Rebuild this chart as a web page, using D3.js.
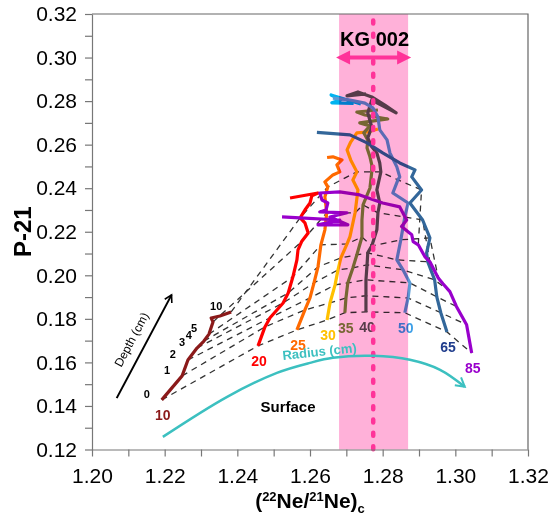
<!DOCTYPE html>
<html>
<head>
<meta charset="utf-8">
<script src="https://cdn.jsdelivr.net/npm/d3@7"></script>
<style>
  body { margin: 0; background: #fff; }
  svg { font-family: "Liberation Sans", Arial, sans-serif; }
  .axis text { font-size: 21px; fill: #000; }
  .axis path, .axis line { stroke: #777; stroke-width: 1.2; }
</style>
</head>
<body>
<svg id="chart" width="549" height="515"></svg>
<script>
// depth profiles: [ (22Ne/21Ne)c, P-21, depth cm or null ]
const radii = [10, 20, 25, 30, 35, 40, 50, 65, 85];
const depthLevels = [0, 1, 2, 3, 4, 5, 7, 10];
const depthLabels = ['0', '1', '2', '3', '4', '5', '10'];
const depthLabelLevels = [0, 1, 2, 3, 4, 5, 10];

const r10 = [[1.2192, 0.1428, 0], [1.2248, 0.1538, 1], [1.2264, 0.1611, 2], [1.2289, 0.1666, 3],
  [1.2308, 0.1698, 4], [1.2322, 0.1730, 5], [1.2333, 0.1786, 7], [1.2328, 0.1804, null],
  [1.2352, 0.1813, null], [1.2383, 0.1832, 10]];
const r20 = [[1.2457, 0.1676, 0], [1.2476, 0.1763, 1], [1.2490, 0.1805, 2], [1.2526, 0.1873, 3],
  [1.2540, 0.1919, 4], [1.2553, 0.1993, 5], [1.2564, 0.2071, null], [1.2567, 0.2117, null],
  [1.2577, 0.2155, 7], [1.2595, 0.2194, null], [1.2586, 0.2241, null], [1.2573, 0.2264, 10],
  [1.2586, 0.2300, null], [1.2600, 0.2332, null], [1.2605, 0.2365, null], [1.2622, 0.2378, null],
  [1.2545, 0.2355, null]];
const r25 = [[1.2564, 0.1749, 0], [1.2586, 0.1841, 1], [1.2600, 0.1896, 2], [1.2611, 0.1965, 3],
  [1.2622, 0.2039, 4], [1.2630, 0.2140, 5], [1.2641, 0.2209, null], [1.2646, 0.2287, 7],
  [1.2641, 0.2360, null], [1.2649, 0.2406, 10], [1.2641, 0.2429, null], [1.2663, 0.2461, null],
  [1.2682, 0.2475, null], [1.2674, 0.2507, null], [1.2688, 0.2530, null], [1.2663, 0.2544, null],
  [1.2647, 0.2541, null]];
const r30 = [[1.2647, 0.1795, 0], [1.2655, 0.1873, 1], [1.2669, 0.1956, 2], [1.2677, 0.2025, 3],
  [1.2685, 0.2080, 4], [1.2702, 0.2144, 5], [1.2710, 0.2178, null], [1.2724, 0.2287, 7],
  [1.2732, 0.2392, null], [1.2718, 0.2438, null], [1.2729, 0.2475, 10], [1.2712, 0.2530, null],
  [1.2702, 0.2576, null], [1.2712, 0.2612, null], [1.2729, 0.2654, null], [1.2759, 0.2658, null],
  [1.2787, 0.2672, null]];
const r35 = [[1.2696, 0.1828, 0], [1.2699, 0.1896, 1], [1.2704, 0.1965, 2], [1.2718, 0.2034, 3],
  [1.2729, 0.2094, 4], [1.2743, 0.2176, 5], [1.2743, 0.2254, null], [1.2746, 0.2323, 7],
  [1.2765, 0.2401, null], [1.2770, 0.2475, 10], [1.2770, 0.2507, null], [1.2765, 0.2544, null],
  [1.2757, 0.2585, null], [1.2759, 0.2622, null], [1.2748, 0.2654, null], [1.2765, 0.2686, null],
  [1.2737, 0.2700, null], [1.2814, 0.2718, null], [1.2751, 0.2736, null], [1.2729, 0.2750, null],
  [1.2787, 0.2759, null]];
const r40 = [[1.2754, 0.1832, 0], [1.2754, 0.1906, 1], [1.2754, 0.1979, 2], [1.2757, 0.2048, 3],
  [1.2759, 0.2103, 4], [1.2770, 0.2135, 5], [1.2784, 0.2209, null], [1.2787, 0.2287, 7],
  [1.2792, 0.2332, null], [1.2784, 0.2392, null], [1.2795, 0.2475, 10], [1.2792, 0.2516, null],
  [1.2784, 0.2562, null], [1.2770, 0.2590, null], [1.2759, 0.2631, null], [1.2770, 0.2681, null],
  [1.2759, 0.2746, null], [1.2770, 0.2805, null], [1.2837, 0.2746, null], [1.2806, 0.2782, null],
  [1.2770, 0.2819, null], [1.2732, 0.2842, null], [1.2702, 0.2824, null], [1.2754, 0.2833, null]];
const r50 = [[1.2861, 0.1828, 0], [1.2870, 0.1896, 1], [1.2875, 0.1965, 2], [1.2856, 0.2025, 3],
  [1.2839, 0.2071, 4], [1.2850, 0.2163, 5], [1.2861, 0.2268, 7], [1.2870, 0.2332, null],
  [1.2828, 0.2378, null], [1.2842, 0.2438, 10], [1.2847, 0.2452, null], [1.2839, 0.2498, null],
  [1.2820, 0.2562, null], [1.2812, 0.2622, null], [1.2792, 0.2668, null], [1.2787, 0.2727, null],
  [1.2773, 0.2769, null], [1.2751, 0.2791, null], [1.2710, 0.2805, null], [1.2663, 0.2814, null]];
const r65 = [[1.2977, 0.1740, 0], [1.2960, 0.1828, 1], [1.2949, 0.1901, 2], [1.2943, 0.1979, 3],
  [1.2924, 0.2062, 4], [1.2921, 0.2103, null], [1.2930, 0.2172, 5], [1.2910, 0.2254, 7],
  [1.2875, 0.2332, null], [1.2907, 0.2392, 10], [1.2880, 0.2452, null], [1.2889, 0.2484, null],
  [1.2847, 0.2516, null], [1.2800, 0.2562, null], [1.2757, 0.2608, null], [1.2710, 0.2645, null],
  [1.2619, 0.2656, null]];
const r85 = [[1.3045, 0.1643, 0], [1.3031, 0.1773, 1], [1.3003, 0.1857, 2], [1.2985, 0.1925, 3],
  [1.2966, 0.1961, 4], [1.2953, 0.1988, 5], [1.2930, 0.2062, 7], [1.2916, 0.2086, null],
  [1.2898, 0.2140, 10], [1.2884, 0.2155, null], [1.2880, 0.2186, null], [1.2852, 0.2224, null],
  [1.2866, 0.2254, null], [1.2847, 0.2314, null], [1.2800, 0.2332, null], [1.2737, 0.2369, null],
  [1.2682, 0.2383, null], [1.2627, 0.2378, null], [1.2633, 0.2346, null], [1.2649, 0.2332, null],
  [1.2644, 0.2300, null], [1.2627, 0.2291, null], [1.2702, 0.2287, null], [1.2655, 0.2268, null],
  [1.2704, 0.2232, null], [1.2622, 0.2232, null], [1.2682, 0.2254, null], [1.2572, 0.2264, null],
  [1.2523, 0.2268, null]];
const cyanTop = [[1.2740, 0.2787], [1.2658, 0.2828], [1.2685, 0.2806], [1.2660, 0.2792], [1.2720, 0.2790]];

// KG 002 range and mean
const kgRange = [1.2680, 1.2870];
const kgMean = 1.2774;
const kgLabel = 'KG 002';

// annotations
const radiusCurve = [[1.2195, 0.1258], [1.2372, 0.1442], [1.2509, 0.1552], [1.2600, 0.1598],
  [1.2663, 0.1621], [1.2773, 0.1630], [1.2875, 0.1612], [1.2958, 0.1566], [1.3026, 0.1488]];
const depthArrow = [[1.2068, 0.1436], [1.2219, 0.1910]];

const profiles = [r10, r20, r25, r30, r35, r40, r50, r65, r85];
const lineColors = ['#8b1a1a', '#ff0000', '#ff6a00', '#ffc000', '#77933c', '#555555', '#5b9bd5', '#33679a', '#9900cc'];
const labelColors = ['#8b1a1a', '#ff0000', '#ff6a00', '#ffc000', '#77933c', '#555555', '#3fa0e8', '#1f3c8c', '#9900cc'];

const svg = d3.select('#chart');
const x = d3.scaleLinear().domain([1.20, 1.32]).range([92, 528]);
const y = d3.scaleLinear().domain([0.12, 0.32]).range([449.5, 14]);
const line = d3.line().x(function (d) { return x(d[0]); }).y(function (d) { return y(d[1]); });

// dashed iso-depth lines
depthLevels.forEach(function (dep) {
  const pts = profiles.map(function (p) {
    return p.find(function (q) { return q[2] === dep; });
  });
  svg.append('path')
    .attr('d', line(pts))
    .attr('fill', 'none')
    .attr('stroke', '#333')
    .attr('stroke-width', 1.3)
    .attr('stroke-dasharray', '6,5');
});

// profiles
profiles.forEach(function (p, i) {
  if (i === 6) {
    svg.append('path').attr('d', line(cyanTop)).attr('fill', 'none')
      .attr('stroke', '#00b4f0').attr('stroke-width', 3.2).attr('stroke-linejoin', 'round');
  }
  svg.append('path')
    .attr('d', line(p))
    .attr('fill', 'none')
    .attr('stroke', lineColors[i])
    .attr('stroke-width', 3.2)
    .attr('stroke-linejoin', 'round');
});

// radius labels at surface points
svg.selectAll('.rlab')
  .data(radii)
  .enter()
  .append('text')
  .attr('class', 'rlab')
  .attr('x', function (d, i) { return x(profiles[i][0][0]) + 1; })
  .attr('y', function (d, i) { return y(profiles[i][0][1]) + 20; })
  .attr('text-anchor', 'middle')
  .attr('font-size', 14)
  .attr('font-weight', 'bold')
  .attr('fill', function (d, i) { return labelColors[i]; })
  .text(function (d) { return d; });

// depth labels along the 10 cm profile
svg.selectAll('.dlab')
  .data(depthLabels)
  .enter()
  .append('text')
  .attr('class', 'dlab')
  .attr('x', function (d, i) {
    const q = r10.find(function (p) { return p[2] === depthLabelLevels[i]; });
    return x(q[0]) - 15;
  })
  .attr('y', function (d, i) {
    const q = r10.find(function (p) { return p[2] === depthLabelLevels[i]; });
    return y(q[1]) - 2;
  })
  .attr('text-anchor', 'middle')
  .attr('font-size', 11)
  .attr('font-weight', 'bold')
  .text(function (d) { return d; });

// KG 002 band, multiplied over the lines
svg.append('rect')
  .attr('x', x(kgRange[0]))
  .attr('y', y(0.32))
  .attr('width', x(kgRange[1]) - x(kgRange[0]))
  .attr('height', y(0.12) - y(0.32))
  .attr('fill', '#ffb1d9')
  .style('mix-blend-mode', 'multiply');

svg.append('line')
  .attr('x1', x(kgMean)).attr('x2', x(kgMean))
  .attr('y1', y(0.317)).attr('y2', y(0.12))
  .attr('stroke', '#ff3399')
  .attr('stroke-width', 4.5)
  .attr('stroke-linecap', 'round')
  .attr('stroke-dasharray', '3,10.3');

// double arrow
const ay = y(0.300);
const ax1 = x(kgRange[0]) - 3;
const ax2 = x(kgRange[1]) + 3;
svg.append('line')
  .attr('x1', ax1 + 8).attr('x2', ax2 - 8)
  .attr('y1', ay).attr('y2', ay)
  .attr('stroke', '#ff3399').attr('stroke-width', 4);
svg.append('path')
  .attr('d', 'M' + ax1 + ',' + ay + 'L' + (ax1 + 14) + ',' + (ay - 7) + 'L' + (ax1 + 14) + ',' + (ay + 7) + 'Z')
  .attr('fill', '#ff3399');
svg.append('path')
  .attr('d', 'M' + ax2 + ',' + ay + 'L' + (ax2 - 14) + ',' + (ay - 7) + 'L' + (ax2 - 14) + ',' + (ay + 7) + 'Z')
  .attr('fill', '#ff3399');
svg.append('text')
  .attr('x', (x(kgRange[0]) + x(kgRange[1])) / 2 + 1)
  .attr('y', y(0.3055))
  .attr('text-anchor', 'middle')
  .attr('font-size', 20)
  .attr('font-weight', 'bold')
  .text(kgLabel);

// radius arrow
svg.append('defs').append('marker')
  .attr('id', 'chev')
  .attr('viewBox', '0 0 10 10')
  .attr('refX', 8).attr('refY', 5)
  .attr('markerWidth', 5).attr('markerHeight', 5)
  .attr('orient', 'auto')
  .append('path')
  .attr('d', 'M1,1 L8,5 L1,9')
  .attr('fill', 'none')
  .attr('stroke', 'context-stroke')
  .attr('stroke-width', 1.6);

svg.append('path')
  .attr('d', d3.line().curve(d3.curveCatmullRom).x(function (d) { return x(d[0]); }).y(function (d) { return y(d[1]); })(radiusCurve))
  .attr('fill', 'none')
  .attr('stroke', '#3cc0c0')
  .attr('stroke-width', 2.5)
  .attr('marker-end', 'url(#chev)');
svg.append('text')
  .attr('transform', 'translate(320,356) rotate(-6)')
  .attr('text-anchor', 'middle')
  .attr('font-size', 13)
  .attr('font-weight', 'bold')
  .attr('fill', '#3cc0c0')
  .text('Radius (cm)');

svg.append('text')
  .attr('x', 288).attr('y', 412)
  .attr('text-anchor', 'middle')
  .attr('font-size', 15)
  .attr('font-weight', 'bold')
  .text('Surface');

// depth arrow
svg.append('line')
  .attr('x1', x(depthArrow[0][0])).attr('y1', y(depthArrow[0][1]))
  .attr('x2', x(depthArrow[1][0])).attr('y2', y(depthArrow[1][1]))
  .attr('stroke', '#000')
  .attr('stroke-width', 2)
  .attr('marker-end', 'url(#chev)');
const dmx = (x(depthArrow[0][0]) + x(depthArrow[1][0])) / 2;
const dmy = (y(depthArrow[0][1]) + y(depthArrow[1][1])) / 2;
const dang = Math.atan2(y(depthArrow[1][1]) - y(depthArrow[0][1]), x(depthArrow[1][0]) - x(depthArrow[0][0])) * 180 / Math.PI;
svg.append('text')
  .attr('transform', 'translate(' + (dmx - 9) + ',' + (dmy - 5) + ') rotate(' + dang + ')')
  .attr('text-anchor', 'middle')
  .attr('font-size', 12)
  .text('Depth (cm)');

// axes
const xTicks = d3.range(120, 133).map(function (v) { return v / 100; });
const yTicks = d3.range(12, 33).map(function (v) { return v / 100; });
const evenFmt = function (d) { return Math.round(d * 100) % 2 === 0 ? d3.format('.2f')(d) : ''; };

svg.append('g')
  .attr('class', 'axis')
  .attr('transform', 'translate(0,' + y(0.12) + ')')
  .call(d3.axisBottom(x).tickValues(xTicks).tickSize(7).tickSizeOuter(0).tickPadding(12).tickFormat(evenFmt));

svg.append('g')
  .attr('class', 'axis')
  .attr('transform', 'translate(' + x(1.20) + ',0)')
  .call(d3.axisLeft(y).tickValues(yTicks).tickSize(7).tickSizeOuter(0).tickPadding(8).tickFormat(evenFmt));

svg.append('path')
  .attr('d', 'M' + x(1.20) + ',' + y(0.32) + 'H' + x(1.32) + 'V' + y(0.12))
  .attr('fill', 'none')
  .attr('stroke', '#666')
  .attr('stroke-width', 1.2);

// axis titles
svg.append('text')
  .attr('transform', 'translate(31,' + y(0.22) + ') rotate(-90)')
  .attr('text-anchor', 'middle')
  .attr('font-size', 24)
  .attr('font-weight', 'bold')
  .text('P-21');

const xt = svg.append('text')
  .attr('x', 310).attr('y', 508)
  .attr('text-anchor', 'middle')
  .attr('font-size', 21)
  .attr('font-weight', 'bold');
xt.append('tspan').text('(');
xt.append('tspan').attr('font-size', 13).attr('dy', -7).text('22');
xt.append('tspan').attr('dy', 7).text('Ne/');
xt.append('tspan').attr('font-size', 13).attr('dy', -7).text('21');
xt.append('tspan').attr('dy', 7).text('Ne)');
xt.append('tspan').attr('font-size', 13).attr('dy', 5).text('c');
</script>
</body>
</html>
